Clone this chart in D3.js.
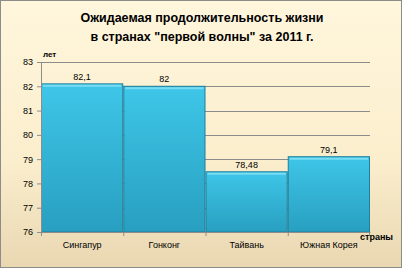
<!DOCTYPE html>
<html>
<head>
<meta charset="utf-8">
<script src="https://cdn.jsdelivr.net/npm/d3@7"></script>
<style>
  body { margin: 0; }
  text { font-family: "Liberation Sans", Arial, sans-serif; }
</style>
</head>
<body>
<div id="chart"></div>
<script>
// chart data
var countries = ["Сингапур", "Гонконг", "Тайвань", "Южная Корея"];
var lifeExp = [82.1, 82, 78.48, 79.1];
var valueLabels = ["82,1", "82", "78,48", "79,1"];
var yTicks = [76, 77, 78, 79, 80, 81, 82, 83];

var width = 402, height = 268;
var plotLeft = 41, plotRight = 370, plotTop = 62, plotBottom = 232;

var svg = d3.select("#chart").append("svg")
  .attr("width", width)
  .attr("height", height);

var defs = svg.append("defs");
var bg = defs.append("linearGradient").attr("id", "bg")
  .attr("x1", 0).attr("y1", 0).attr("x2", 0).attr("y2", 1);
bg.append("stop").attr("offset", "0%").attr("stop-color", "#fff6dc");
bg.append("stop").attr("offset", "60%").attr("stop-color", "#fbeecd");
bg.append("stop").attr("offset", "100%").attr("stop-color", "#e9d7b1");

var barGrad = defs.append("linearGradient").attr("id", "bar")
  .attr("x1", 0).attr("y1", 0).attr("x2", 0).attr("y2", 1);
barGrad.append("stop").attr("offset", "0%").attr("stop-color", "#3ec6e8");
barGrad.append("stop").attr("offset", "100%").attr("stop-color", "#289fc0");

svg.append("rect")
  .attr("x", 0.5).attr("y", 0.5)
  .attr("width", width - 1).attr("height", height - 1)
  .attr("fill", "url(#bg)")
  .attr("stroke", "#8c8c8c");

var x = d3.scaleBand().domain(countries).range([plotLeft, plotRight]).padding(0);
var y = d3.scaleLinear().domain([76, 83]).range([plotBottom, plotTop]);

// gridlines
svg.append("g")
  .selectAll("line")
  .data(yTicks.slice(1))
  .enter().append("line")
  .attr("x1", plotLeft).attr("x2", plotRight)
  .attr("y1", function(d) { return Math.round(y(d)) + 0.5; })
  .attr("y2", function(d) { return Math.round(y(d)) + 0.5; })
  .attr("stroke", "#8c8c8c");

// bars
var bars = svg.append("g").selectAll("g")
  .data(lifeExp)
  .enter().append("g");

bars.append("rect")
  .attr("x", function(d, i) { return x(countries[i]) + 0.5; })
  .attr("y", function(d) { return y(d); })
  .attr("width", x.bandwidth() - 1)
  .attr("height", function(d) { return plotBottom - y(d); })
  .attr("fill", "url(#bar)")
  .attr("stroke", "#1f7f9c")
  .attr("stroke-width", 1);

bars.append("line")
  .attr("x1", function(d, i) { return x(countries[i]) + 2; })
  .attr("x2", function(d, i) { return x(countries[i]) + x.bandwidth() - 2; })
  .attr("y1", function(d) { return y(d) + 2; })
  .attr("y2", function(d) { return y(d) + 2; })
  .attr("stroke", "#7adcf2")
  .attr("stroke-width", 2);

bars.append("text")
  .attr("x", function(d, i) { return x(countries[i]) + x.bandwidth() / 2; })
  .attr("y", function(d) { return y(d) - 4; })
  .attr("text-anchor", "middle")
  .attr("font-size", 9)
  .attr("fill", "#000")
  .text(function(d, i) { return valueLabels[i]; });

// axes
var yAxis = svg.append("g")
  .attr("transform", "translate(" + plotLeft + ",0)")
  .call(d3.axisLeft(y).tickValues(yTicks).tickSize(4).tickFormat(d3.format("d")));
yAxis.select(".domain").attr("stroke", "#8c8c8c");
yAxis.selectAll(".tick line").attr("stroke", "#8c8c8c");
yAxis.selectAll("text").attr("font-size", 9).attr("fill", "#000").attr("x", -8);

var xAxis = svg.append("g")
  .attr("transform", "translate(0," + plotBottom + ")")
  .call(d3.axisBottom(x).tickSize(0));
xAxis.select(".domain").attr("stroke", "#8c8c8c");
xAxis.selectAll("text").attr("font-size", 9).attr("fill", "#000").attr("dy", "1.4em");

svg.append("g").selectAll("line")
  .data(countries.concat([null]))
  .enter().append("line")
  .attr("x1", function(d) { return d ? x(d) + 0.5 : plotRight - 0.5; })
  .attr("x2", function(d) { return d ? x(d) + 0.5 : plotRight - 0.5; })
  .attr("y1", plotBottom).attr("y2", plotBottom + 4)
  .attr("stroke", "#8c8c8c");

// titles
svg.append("text")
  .attr("x", 202).attr("y", 22)
  .attr("text-anchor", "middle")
  .attr("font-size", 12.5).attr("font-weight", "bold")
  .text("Ожидаемая продолжительность жизни");
svg.append("text")
  .attr("x", 202).attr("y", 41)
  .attr("text-anchor", "middle")
  .attr("font-size", 12.5).attr("font-weight", "bold")
  .text("в странах \"первой волны\" за 2011 г.");

svg.append("text")
  .attr("x", 43).attr("y", 57)
  .attr("font-size", 8).attr("font-weight", "bold")
  .text("лет");

svg.append("text")
  .attr("x", 360).attr("y", 240)
  .attr("font-size", 9).attr("font-weight", "bold")
  .text("страны");
</script>
</body>
</html>
